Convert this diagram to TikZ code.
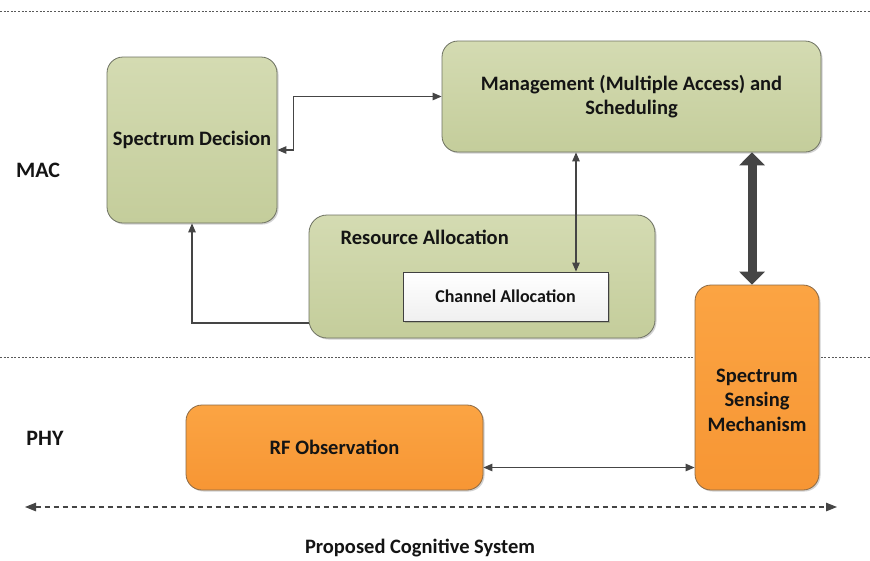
\documentclass[tikz,border=0pt]{standalone}
\usepackage{fontspec}
\setmainfont{Carlito}
\usetikzlibrary{arrows.meta,shadows,calc}

\definecolor{greentop}{HTML}{D4DBB2}
\definecolor{greenbot}{HTML}{C4CD9B}
\definecolor{greenline}{HTML}{6E7262}
\definecolor{orangetop}{HTML}{FBA443}
\definecolor{orangebot}{HTML}{F79634}
\definecolor{orangeline}{HTML}{8C6A45}
\definecolor{connline}{HTML}{454545}
\definecolor{txt}{HTML}{141414}

\tikzset{
  boxshadow/.style={drop shadow={shadow xshift=1.5pt, shadow yshift=-1.5pt, opacity=0.25, fill=black!70}},
  greenbox/.style={draw=greenline, line width=0.8pt, rounded corners=16pt,
    top color=greentop, bottom color=greenbot, boxshadow, inner sep=0pt},
  orangebox/.style={draw=orangeline, line width=0.8pt, rounded corners=16pt,
    top color=orangetop, bottom color=orangebot, boxshadow, inner sep=0pt},
  whitebox/.style={draw=black!75, line width=0.8pt, top color=white, bottom color=black!6,
    boxshadow, inner sep=0pt},
  boxtext/.style={text=txt, font=\bfseries\fontsize{20.5pt}{24.5pt}\selectfont, align=center},
  smalltext/.style={text=txt, font=\bfseries\fontsize{18pt}{22pt}\selectfont, align=center},
  layertext/.style={text=txt, font=\bfseries\fontsize{22pt}{26pt}\selectfont},
  conn/.style={draw=connline, line width=1.1pt,
    arrows={Triangle[length=9pt,width=7.5pt]-Triangle[length=9pt,width=7.5pt]}},
  conntip/.style={draw=connline, line width=1.1pt, -{Triangle[length=9pt,width=7.5pt]}},
  thickconn/.style={draw=connline, line width=9pt,
    arrows={Triangle[length=13pt,width=25pt]-Triangle[length=13pt,width=25pt]}},
  layerline/.style={draw=black!65, line width=0.9pt, dash pattern=on 2pt off 1.6pt},
  spanline/.style={draw=connline, line width=1.1pt, dash pattern=on 5pt off 4pt,
    arrows={Triangle[length=11pt,width=8.5pt]-Triangle[length=11pt,width=8.5pt]}},
}

\begin{document}
\begin{tikzpicture}[x=1pt,y=-1pt]
\useasboundingbox[fill=white] (0,0) rectangle (870,560);

% layer separators
\coordinate (topl) at (0,11);
\coordinate (topr) at (870,11);
\coordinate (midl) at (0,357);
\coordinate (midr) at (870,357);
\draw[layerline] (topl) -- (topr);
\draw[layerline] (midl) -- (midr);

% MAC layer blocks
\node[greenbox, minimum width=170pt, minimum height=166pt] (sd) at (192,140) {};
\node[boxtext] (sdtxt) at (192,140) {Spectrum Decision};

\node[greenbox, minimum width=379pt, minimum height=111pt] (mg) at (631.5,96.5) {};
\node[boxtext] (mgtxt) at (631.5,96.5) {Management (Multiple Access) and\\Scheduling};

\node[greenbox, rounded corners=18pt, minimum width=346pt, minimum height=123pt] (ra) at (482,276.5) {};
\node[boxtext, anchor=west] (ratxt) at (337,237) {Resource Allocation};

\node[whitebox, minimum width=205pt, minimum height=49pt] (ca) at (505.5,296.5) {};
\node[smalltext] (catxt) at (505.5,296.5) {Channel Allocation};

% PHY layer blocks
\node[orangebox, minimum width=124pt, minimum height=205pt] (ss) at (757,387.5) {};
\node[boxtext] (sstxt) at (757,400) {Spectrum\\Sensing\\Mechanism};

\node[orangebox, minimum width=297pt, minimum height=85pt] (rf) at (334.5,447.5) {};
\node[boxtext] (rftxt) at (334.5,447.5) {RF Observation};

% layer labels
\node[layertext] (mac) at (38,170) {MAC};
\node[layertext] (phy) at (45,438) {PHY};

% connectors
\draw[conn] ([yshift=-10pt]sd.east) -- ++(16,0) |- (mg.west);
\draw[conn] ([xshift=70.5pt]ca.north) -- ([xshift=70.5pt]ca.north |- mg.south);
\draw[conntip] ([yshift=-46.5pt]ra.west) -| (sd.south);
\draw[thickconn] ([xshift=-5pt]ss.north) -- ([xshift=-5pt]ss.north |- mg.south);
\draw[conn] ([yshift=-20pt]rf.east) -- ([yshift=-20pt]rf.east -| ss.west);

% system span
\coordinate (spanl) at (25,507);
\coordinate (spanr) at (837,507);
\draw[spanline] (spanl) -- (spanr);
\node[boxtext] (sys) at (420,548) {Proposed Cognitive System};
\end{tikzpicture}
\end{document}
